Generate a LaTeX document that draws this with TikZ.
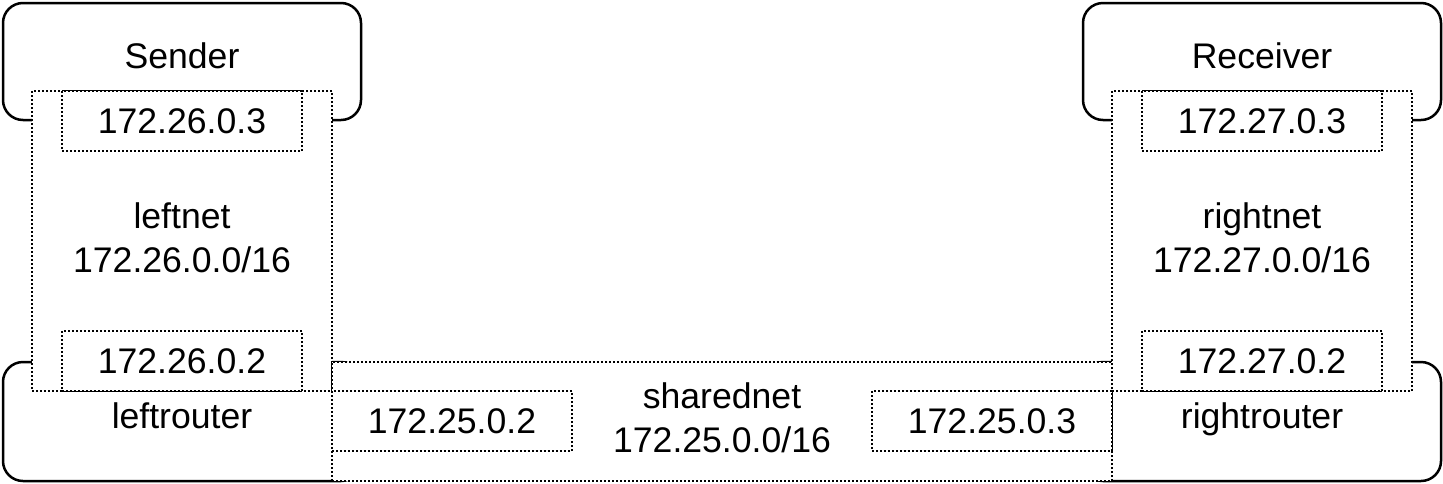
\documentclass[tikz,border=0pt]{standalone}
\usepackage{fontspec}
\setmainfont{Liberation Sans}
\begin{document}
\begin{tikzpicture}[x=0.5pt,y=-0.5pt,
  every node/.style={font=\fontsize{17.8}{22}\selectfont, inner sep=0pt, outer sep=0pt},
  hostbox/.style={draw, fill=white, line width=1.25pt, rounded corners=10pt, minimum width=179pt},
  hostlabel/.style={anchor=center, text height=12pt, text depth=0pt},
  netbox/.style={draw, fill=white, line width=1.25pt, dash pattern=on 1pt off 1pt, align=center},
  ipbox/.style={netbox, minimum width=120pt, minimum height=30pt}]
\useasboundingbox (0,0) rectangle (1443,483);
% hosts and routers
\node[hostbox, minimum height=58.5pt, label={[hostlabel, yshift=-26.5pt]north:Sender}] (sender) at (182,61.5) {};
\node[hostbox, minimum height=58.5pt, label={[hostlabel, yshift=-26.5pt]north:Receiver}] (receiver) at (1262,61.5) {};
\node[hostbox, minimum height=59.5pt, label={[hostlabel, yshift=2.75pt]center:leftrouter}] (leftrouter) at (182,421.5) {};
\node[hostbox, minimum height=59.5pt, label={[hostlabel, yshift=2.75pt]center:rightrouter}] (rightrouter) at (1262,421.5) {};
% networks
\node[netbox, minimum width=150pt, minimum height=150pt] (leftnet) at (182,241) {};
\node[anchor=center] (leftnettxt) at (182,237.5) [align=center] {leftnet\\172.26.0.0/16};
\node[netbox, minimum width=150pt, minimum height=150pt] (rightnet) at (1262,241) {};
\node[anchor=center] (rightnettxt) at (1262,237.5) [align=center] {rightnet\\172.27.0.0/16};
\node[netbox, minimum width=390pt, minimum height=59.5pt] (sharednet) at (722,421.5) {};
\node[anchor=center] (sharednettxt) at (722,417.5) [align=center] {sharednet\\172.25.0.0/16};
% interfaces
\node[ipbox] (s3) at (182,121) {172.26.0.3};
\node[ipbox] (s2) at (182,361) {172.26.0.2};
\node[ipbox] (r3) at (1262,121) {172.27.0.3};
\node[ipbox] (r2) at (1262,361) {172.27.0.2};
\node[ipbox] (l2) at (452,421) {172.25.0.2};
\node[ipbox] (l3) at (992,421) {172.25.0.3};
\end{tikzpicture}
\end{document}
